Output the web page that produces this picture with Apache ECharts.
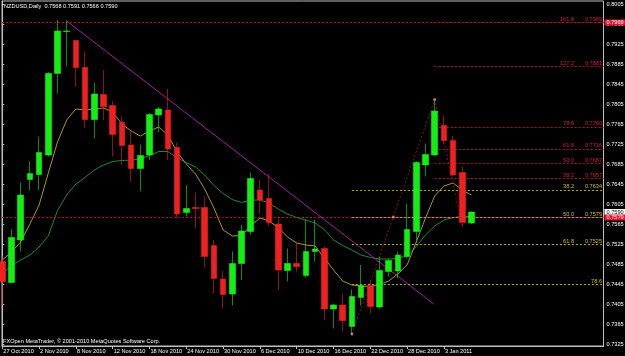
<!DOCTYPE html>
<html><head><meta charset="utf-8">
<script src="https://cdn.jsdelivr.net/npm/echarts@6/dist/echarts.min.js"></script>
<style>html,body{margin:0;padding:0;background:#000;}#c{width:625px;height:356px;}</style>
</head><body><div id="c"></div>
<script>
// ---------- data ----------
const headerText = 'NZDUSD,Daily  0.7568 0.7591 0.7566 0.7590';
const footerText = 'FXOpen MetaTrader, \u00a9 2001-2010 MetaQuotes Software Corp.';
const dateTickIdx = [0,4,8,12,16,20,24,28,32,36,40,44,48];
const dateTickLabels = ['27 Oct 2010','2 Nov 2010','8 Nov 2010','12 Nov 2010','18 Nov 2010','24 Nov 2010','30 Nov 2010','6 Dec 2010','10 Dec 2010','16 Dec 2010','22 Dec 2010','28 Dec 2010','3 Jan 2011'];
const priceTicks = [0.7325,0.7365,0.7405,0.7445,0.7485,0.7525,0.7565,0.7605,0.7645,0.7685,0.7725,0.7765,0.7805,0.7845,0.7885,0.7925,0.7965,0.8005];

const opens  = [0.7491,0.7449,0.7534,0.7655,0.7665,0.7704,0.7867,0.7951,0.7933,0.7879,0.7775,0.7825,0.7803,0.7769,0.7724,0.7677,0.7704,0.7784,0.7794,0.7719,0.7589,0.7599,0.7599,0.7523,0.7456,0.7426,0.7487,0.7551,0.7634,0.7617,0.7566,0.7473,0.7487,0.7463,0.7511,0.7517,0.7396,0.7404,0.7361,0.7419,0.7443,0.7400,0.7471,0.7472,0.7501,0.7551,0.7684,0.7704,0.7763,0.7733,0.7669,0.7568];
const closes = [0.7451,0.7539,0.7624,0.7667,0.7709,0.7867,0.7952,0.7952,0.7879,0.7775,0.7826,0.7801,0.7745,0.7723,0.7677,0.7703,0.7785,0.7796,0.7716,0.7586,0.7597,0.7597,0.7501,0.7457,0.7425,0.7487,0.7552,0.7657,0.7614,0.7569,0.7474,0.7487,0.7481,0.7511,0.7516,0.7396,0.7404,0.7373,0.7421,0.7443,0.7401,0.7473,0.7493,0.7504,0.7555,0.7689,0.7705,0.7792,0.7733,0.7664,0.7569,0.7590];
const lows   = [0.7404,0.7447,0.7511,0.7634,0.7634,0.7701,0.7827,0.7881,0.7840,0.7759,0.7737,0.7774,0.7701,0.7684,0.7651,0.7631,0.7694,0.7750,0.7694,0.7577,0.7581,0.7557,0.7479,0.7427,0.7397,0.7403,0.7454,0.7544,0.7586,0.7562,0.7434,0.7451,0.7471,0.7459,0.7491,0.7374,0.7357,0.7351,0.7346,0.7403,0.7387,0.7397,0.7461,0.7457,0.7497,0.7534,0.7661,0.7702,0.7727,0.7661,0.7561,0.7566];
const highs  = [0.7501,0.7556,0.7649,0.7691,0.7741,0.7870,0.7974,0.7973,0.7935,0.7911,0.7849,0.7874,0.7812,0.7781,0.7751,0.7725,0.7788,0.7800,0.7836,0.7729,0.7644,0.7629,0.7622,0.7535,0.7472,0.7511,0.7564,0.7669,0.7654,0.7666,0.7579,0.7517,0.7529,0.7575,0.7575,0.7522,0.7407,0.7425,0.7435,0.7484,0.7453,0.7501,0.7496,0.7511,0.7606,0.7692,0.7727,0.7815,0.7783,0.7742,0.7681,0.7591];

const maFast = [0.7494,0.7510,0.7530,0.7566,0.7604,0.7668,0.7730,0.7774,0.7796,0.7794,0.7796,0.7798,0.7790,0.7766,0.7752,0.7742,0.7752,0.7760,0.7744,0.7710,0.7686,0.7666,0.7636,0.7598,0.7554,0.7542,0.7543,0.7562,0.7578,0.7572,0.7559,0.7540,0.7528,0.7524,0.7522,0.7498,0.7474,0.7452,0.7444,0.7442,0.7441,0.7445,0.7452,0.7466,0.7484,0.7530,0.7578,0.7622,0.7642,0.7648,0.7634,0.7624];
const maSlow = [0.7468,0.7482,0.7494,0.7504,0.7520,0.7542,0.7593,0.7624,0.7646,0.7659,0.7674,0.7684,0.7691,0.7693,0.7694,0.7696,0.7703,0.7711,0.7711,0.7698,0.7689,0.7680,0.7664,0.7643,0.7627,0.7615,0.7609,0.7614,0.7614,0.7608,0.7596,0.7586,0.7579,0.7574,0.7568,0.7555,0.7534,0.7523,0.7514,0.7504,0.7499,0.7496,0.7496,0.7497,0.7503,0.7521,0.7544,0.7562,0.7574,0.7579,0.7581,0.7581];

const trendLine = [[7,0.7972],[46.9,0.7406]];
const fibRedBase = [[47,0.7815],[50,0.7561]];
const fibRedLevels = ['38.2','50.0','61.8','78.6','127.2','161.8'];
const fibRedPrices = [0.7657,0.7687,0.7716,0.7760,0.7881,0.7969];
const fibYellowBase = [[38,0.7346],[47,0.7815]];
const fibYellowLevels = ['38.2','50.0','61.8','78.6'];
const fibYellowPrices = [0.7634,0.7579,0.7525,0.7445];
const fibYellowPriceShown = ['0.7634','0.7579','0.7525',''];
const anchorPoints = [[38,0.7346],[47,0.7815],[42.5,0.7580]];
const hLinePrices = [0.7969,0.7579];
const bidPrice = 0.7590;

// ---------- chart ----------
const FONT = 'Liberation Sans';
const FS = 5.6;
const X_MIN = -0.033, X_MAX = 65.35, Y_MIN = 0.7322, Y_MAX = 0.8012;

const candleData = opens.map((o,i)=>[i,o,closes[i],lows[i],highs[i]]);

function fibMark(levels, prices, shown, startX) {
  return prices.map((p,k)=>{
    const txt = shown[k] === '' ? '{b|' + levels[k] + '}' : '{a|' + levels[k] + '}{b|' + shown[k] + '}';
    return [{coord:[startX,p], label:{formatter: txt}}, {coord:[X_MAX,p]}];
  });
}

const chart = echarts.init(document.getElementById('c'));
chart.setOption({
  animation:false,
  backgroundColor:'#000000',
  title:[
    {text:headerText, left:4, top:3, padding:0, textStyle:{color:'#ffffff', fontSize:FS, fontWeight:'normal', fontFamily:FONT}},
    {text:footerText, left:3, top:338.5, padding:0, textStyle:{color:'#ffffff', fontSize:FS, fontWeight:'normal', fontFamily:FONT}}
  ],
  grid:{left:2, right:21.5, top:1, bottom:10, show:true, borderColor:'#c0c0c0', borderWidth:1, backgroundColor:'transparent', containLabel:false, outerBoundsMode:'none'},
  xAxis:{type:'value', min:X_MIN, max:X_MAX, scale:true,
    axisLine:{show:true, lineStyle:{color:'#c0c0c0'}},
    axisTick:{show:true, customValues:dateTickIdx, length:3, lineStyle:{color:'#c0c0c0'}},
    axisLabel:{show:true, customValues:dateTickIdx, color:'#ffffff', fontSize:FS, fontFamily:FONT, align:'left', margin:2, padding:[0,0,0,1],
      formatter:(v)=>{const k=dateTickIdx.indexOf(Math.round(v)); return k>=0?dateTickLabels[k]:'';}},
    splitLine:{show:false}},
  yAxis:{type:'value', position:'right', min:Y_MIN, max:Y_MAX, scale:true,
    axisLine:{show:true, lineStyle:{color:'#c0c0c0'}},
    axisTick:{show:true, customValues:priceTicks, length:2, lineStyle:{color:'#c0c0c0'}},
    axisLabel:{show:true, customValues:priceTicks, color:'#ffffff', fontSize:FS, fontFamily:FONT, margin:3,
      formatter:(v)=>v.toFixed(4)},
    splitLine:{show:false}},
  series:[
    {type:'line', name:'slowMA', data:maSlow.map((v,i)=>[i,v]), showSymbol:false, symbol:'none', z:2,
      lineStyle:{color:'#1f8a2c', width:1}},
    {type:'line', name:'fastMA', data:maFast.map((v,i)=>[i,v]), showSymbol:false, symbol:'none', z:2,
      lineStyle:{color:'#a89a1c', width:1}},
    {type:'line', name:'trend', data:trendLine, showSymbol:false, symbol:'none', z:2,
      lineStyle:{color:'#a020a0', width:1}},
    {type:'line', name:'fibYellow', data:fibYellowBase, showSymbol:false, symbol:'none', z:2,
      lineStyle:{color:'#8a1414', width:1, type:[2,2]},
      markLine:{silent:true, symbol:['none','none'], animation:false, precision:4,
        lineStyle:{color:'#b4b014', width:1, type:[2,2]},
        label:{show:true, position:'insideEndTop', distance:[1.5,0.5], color:'#c8c020', fontSize:FS, fontFamily:FONT,
          rich:{a:{width:22, align:'right', color:'#c8c020', fontSize:FS, fontFamily:FONT}, b:{width:28, align:'right', color:'#c8c020', fontSize:FS, fontFamily:FONT}}},
        data:fibMark(fibYellowLevels, fibYellowPrices, fibYellowPriceShown, fibYellowBase[0][0])}},
    {type:'line', name:'fibRed', data:fibRedBase, showSymbol:false, symbol:'none', z:2,
      lineStyle:{color:'#8a1414', width:1, type:[2,2]},
      markLine:{silent:true, symbol:['none','none'], animation:false, precision:4,
        lineStyle:{color:'#a8142c', width:1, type:[2,2]},
        label:{show:true, position:'insideEndTop', distance:[1.5,0.5], color:'#d0203a', fontSize:FS, fontFamily:FONT,
          rich:{a:{width:22, align:'right', color:'#d0203a', fontSize:FS, fontFamily:FONT}, b:{width:28, align:'right', color:'#d0203a', fontSize:FS, fontFamily:FONT}}},
        data:fibMark(fibRedLevels, fibRedPrices, fibRedPrices.map(p=>p.toFixed(4)), fibRedBase[0][0])}},
    {type:'line', name:'hlines', data:[[0,bidPrice]], showSymbol:false, symbol:'none', z:3, lineStyle:{opacity:0},
      markLine:{silent:true, symbol:['none','none'], animation:false, precision:4,
        lineStyle:{color:'#b0102a', width:1, type:[2,2]},
        label:{show:true, position:'end', distance:1, color:'#ffffff', backgroundColor:'#e0142e', padding:[0,2,0,2], lineHeight:6, fontSize:FS, fontFamily:FONT,
          formatter:(p)=>Number(p.value).toFixed(4)},
        data:[{yAxis:bidPrice, lineStyle:{color:'rgba(0,0,0,0)'}, label:{color:'#000000', backgroundColor:'#ffffff'}}].concat(hLinePrices.map(v=>({yAxis:v})))}},
    {type:'candlestick', name:'NZDUSD', data:candleData, encode:{x:0, y:[1,2,3,4]}, barWidth:6, z:5,
      itemStyle:{color:'#12f012', color0:'#f02020', borderColor:'rgba(20,240,20,0.6)', borderColor0:'rgba(240,32,32,0.6)', borderWidth:1}},
    {type:'scatter', name:'anchors', data:anchorPoints, symbolSize:3, z:6,
      itemStyle:{color:'#f08a6a'}}
  ]
});
</script></body></html>
